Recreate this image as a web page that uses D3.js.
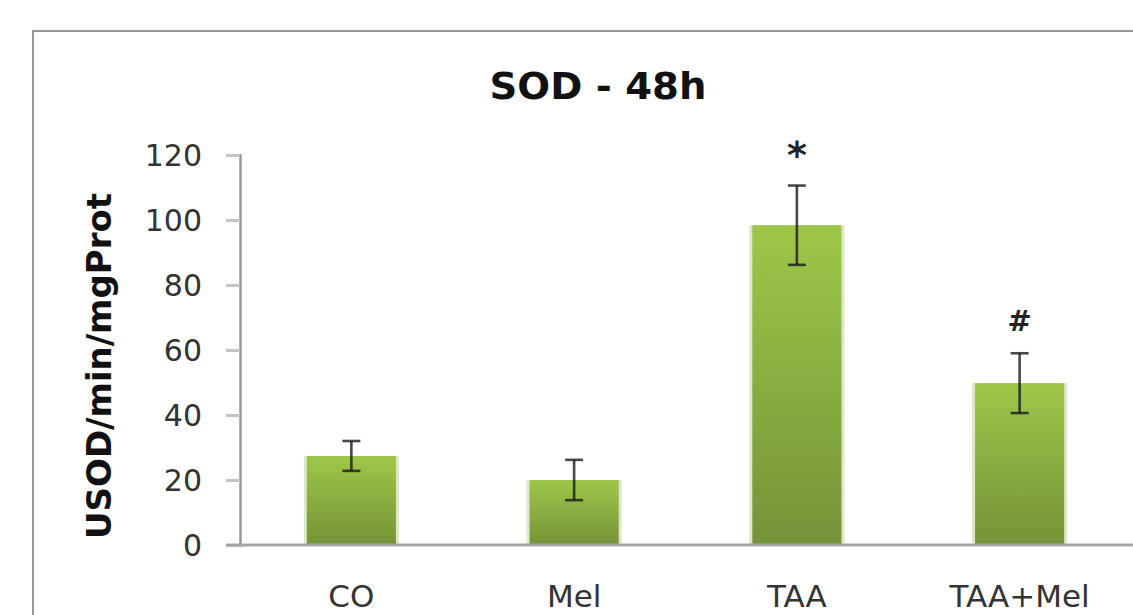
<!DOCTYPE html>
<html><head><meta charset="utf-8">
<script src="https://cdn.jsdelivr.net/npm/d3@7"></script>
<style>body{margin:0;background:#fff;}svg{display:block;}</style>
</head><body>
<svg id="c" width="1133" height="615"></svg>
<script>
const categories = ["CO", "Mel", "TAA", "TAA+Mel"];
const values = [27.4, 20.0, 98.4, 49.8];
const errors = [4.6, 6.2, 12.2, 9.2];
const marks = ["", "", "*", "#"];
const yTicks = [0, 20, 40, 60, 80, 100, 120];
const title = "SOD - 48h";
const yTitle = "USOD/min/mgProt";

const svg = d3.select("#c");
const font = "DejaVu Sans, Verdana, sans-serif";

// border
svg.append("rect").attr("x", 33).attr("y", 31).attr("width", 1200).attr("height", 700)
  .attr("fill", "none").attr("stroke", "#979797").attr("stroke-width", 2);

const x = d3.scaleBand().domain(categories).range([240, 1131]).paddingInner(0.6).paddingOuter(0.3);
const y = d3.scaleLinear().domain([0, 120]).range([545, 155]);

const defs = svg.append("defs");
const g = defs.append("linearGradient").attr("id", "bg").attr("x1", 0).attr("y1", 0).attr("x2", 0).attr("y2", 1);
g.append("stop").attr("offset", "0%").attr("stop-color", "#9ec749");
g.append("stop").attr("offset", "100%").attr("stop-color", "#759339");

// title
svg.append("text").attr("x", 598).attr("y", 99).attr("text-anchor", "middle")
  .attr("font-family", font).attr("font-weight", "bold").attr("font-size", 38).attr("fill", "#111")
  .attr("textLength", 217).attr("lengthAdjust", "spacingAndGlyphs").text(title);

// y axis title
svg.append("text").attr("transform", "translate(111,366) rotate(-90)").attr("text-anchor", "middle")
  .attr("font-family", font).attr("font-weight", "bold").attr("font-size", 33).attr("fill", "#111")
  .attr("textLength", 346).attr("lengthAdjust", "spacingAndGlyphs").text(yTitle);

// y axis
const yAxis = svg.append("g").attr("transform", "translate(240,0)")
  .call(d3.axisLeft(y).tickValues(yTicks).tickSize(14).tickPadding(24));
yAxis.select(".domain").attr("stroke", "#999").attr("stroke-width", 2.5);
yAxis.selectAll(".tick line").attr("stroke", "#c4c4c4").attr("stroke-width", 3);
yAxis.selectAll(".tick text").attr("font-family", font).attr("font-size", 30).attr("fill", "#333")
  .attr("dy", "0.36em");

// bars
const bars = svg.append("g");
bars.selectAll("rect.glow").data(categories).join("rect").attr("class", "glow")
  .attr("x", d => x(d) - 3).attr("width", x.bandwidth() + 6)
  .attr("y", (d, i) => y(values[i])).attr("height", (d, i) => y(0) - y(values[i]))
  .attr("fill", "#dce6c8");
bars.selectAll("rect.bar").data(categories).join("rect").attr("class", "bar")
  .attr("x", d => x(d)).attr("width", x.bandwidth())
  .attr("y", (d, i) => y(values[i])).attr("height", (d, i) => y(0) - y(values[i]))
  .attr("fill", "url(#bg)");

// x axis line
svg.append("line").attr("x1", 226).attr("x2", 1133).attr("y1", y(0)).attr("y2", y(0))
  .attr("stroke", "#a6a6a6").attr("stroke-width", 3);

// error bars
const eb = svg.append("g").attr("stroke", "#1a1a1a").attr("stroke-opacity", 0.8).attr("stroke-width", 2.6);
categories.forEach((c, i) => {
  const cx = x(c) + x.bandwidth() / 2;
  const t = y(values[i] + errors[i]), b = y(values[i] - errors[i]);
  eb.append("line").attr("x1", cx).attr("x2", cx).attr("y1", t).attr("y2", b);
  eb.append("line").attr("x1", cx - 9).attr("x2", cx + 9).attr("y1", t).attr("y2", t);
  eb.append("line").attr("x1", cx - 9).attr("x2", cx + 9).attr("y1", b).attr("y2", b);
  if (marks[i]) {
    const star = marks[i] === "*";
    svg.append("text").attr("x", cx).attr("y", t - (star ? 18 : 22)).attr("text-anchor", "middle")
      .attr("font-family", font).attr("font-weight", "bold").attr("font-size", star ? 38 : 29)
      .attr("fill", "#222").text(marks[i]);
  }
});

// x labels
svg.append("g").selectAll("text").data(categories).join("text")
  .attr("x", d => x(d) + x.bandwidth() / 2).attr("y", 607).attr("text-anchor", "middle")
  .attr("font-family", font).attr("font-size", 31).attr("fill", "#333").text(d => d);
</script>
</body></html>
